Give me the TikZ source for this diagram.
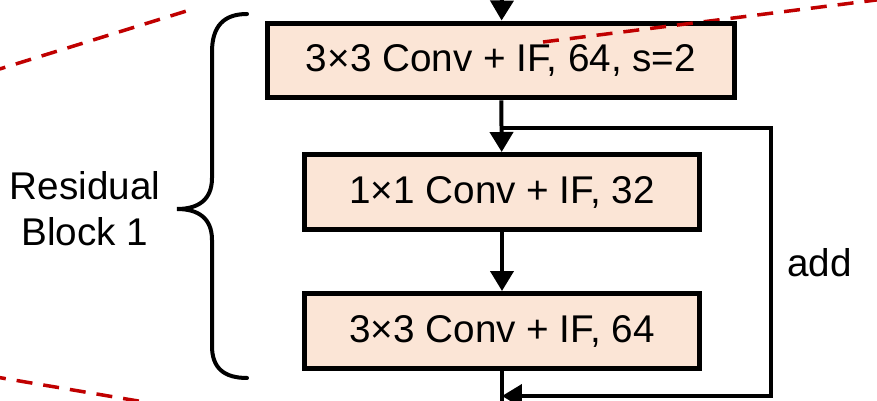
\documentclass[tikz,border=0pt]{standalone}
\usepackage{fontspec}
\setmainfont{Liberation Sans}
\usetikzlibrary{arrows.meta}
\definecolor{boxfill}{HTML}{FBE5D6}
\definecolor{cutred}{HTML}{C00000}
\begin{document}
\begin{tikzpicture}[x=0.02cm,y=-0.02cm,font=\fontsize{22}{26}\selectfont,
  convbox/.style={draw=black,fill=boxfill,line width=0.1cm,minimum height=1.5cm,inner sep=0pt},
  flow/.style={line width=0.08cm,-{Triangle[length=0.4cm,width=0.46cm]}},
  wire/.style={line width=0.08cm},
  cut/.style={cutred,line width=0.07cm,dash pattern=on 0.32cm off 0.22cm}]
  \clip (0,0) rectangle (877,401);
  % zoom lines of the cut-out
  \draw[cut] (-10,72) -- (193,9);
  \draw[cut] (543,42) -- (900,-3);
  \draw[cut] (-10,376) -- (150,403);
  % layers
  \node[convbox,minimum width=9.34cm] (conva) at (501,60.5) {3×3 Conv + IF, 64, s=2};
  \node[convbox,minimum width=7.92cm] (convb) at (502,192) {1×1 Conv + IF, 32};
  \node[convbox,minimum width=7.92cm] (convc) at (502,331) {3×3 Conv + IF, 64};
  \draw[cut] (543,42) -- (700,22.2);
  \coordinate (intop) at (502,-5);
  \coordinate (fork) at (502,128);
  \coordinate (skipc) at (771,396);
  \coordinate (join) at (502,396);
  \coordinate (outb) at (502,410);
  \draw[flow] (intop) -- (conva);
  \draw[flow] (conva) -- (convb);
  \draw[flow] (convb) -- (convc);
  \draw[wire] (convc) -- (outb);
  \draw[flow] (fork) -| (skipc) -- (join);
  \node[anchor=west] (addlab) at (781,263) {add};
  % brace
  \draw[line width=0.08cm,line cap=round] (247,14) .. controls (224,14) and (212,26) .. (212,52)
    -- (212,178) .. controls (212,200) and (198,209) .. (177,209)
    .. controls (198,209) and (212,218) .. (212,240)
    -- (212,346) .. controls (212,368) and (224,378) .. (247,378);
  \node[align=center] (blocklab) at (85,209) {Residual\\Block 1};
\end{tikzpicture}
\end{document}
